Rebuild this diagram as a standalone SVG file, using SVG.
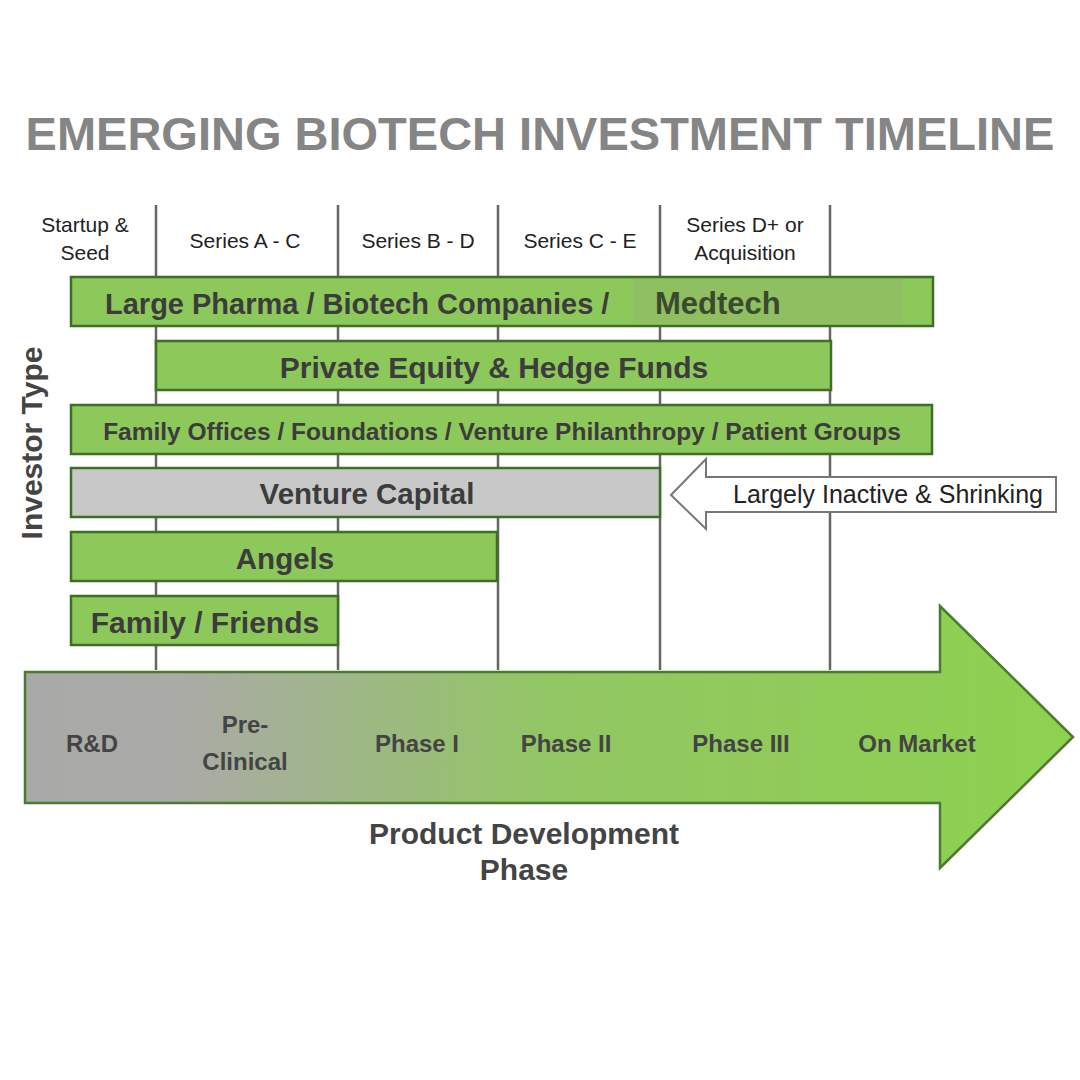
<svg xmlns="http://www.w3.org/2000/svg" width="1080" height="1080" viewBox="0 0 1080 1080">
<style>
text{font-family:"Liberation Sans",Arial,sans-serif;fill:#3c3c3c}
.h{font-size:21px;fill:#222;text-anchor:middle}
.b{font-weight:bold;text-anchor:middle}
.bar{fill:#8dc95a;stroke:#3f6e27;stroke-width:2.5}
.grid{stroke:#666;stroke-width:2.5}
.ph{font-size:24px;font-weight:bold;text-anchor:middle;fill:#444}
</style>
<defs>
<linearGradient id="g" x1="25" y1="0" x2="1073" y2="0" gradientUnits="userSpaceOnUse">
<stop offset="0" stop-color="#a9a9a9"/><stop offset="0.15" stop-color="#aaaaa6"/><stop offset="0.5" stop-color="#92c663"/><stop offset="1" stop-color="#8ed14f"/>
</linearGradient>
</defs>
<rect width="1080" height="1080" fill="#fff"/>
<text x="540" y="150" text-anchor="middle" font-size="47" font-weight="bold" style="fill:#858585">EMERGING BIOTECH INVESTMENT TIMELINE</text>
<g id="grid">
<line class="grid" x1="156" y1="205" x2="156" y2="670"/>
<line class="grid" x1="338" y1="205" x2="338" y2="670"/>
<line class="grid" x1="498" y1="205" x2="498" y2="670"/>
<line class="grid" x1="660" y1="205" x2="660" y2="670"/>
<line class="grid" x1="830" y1="205" x2="830" y2="670"/>
</g>
<g id="headers">
<text class="h" x="85" y="232">Startup &amp;</text><text class="h" x="85" y="260">Seed</text>
<text class="h" x="245" y="248">Series A - C</text>
<text class="h" x="418" y="248">Series B - D</text>
<text class="h" x="580" y="248">Series C - E</text>
<text class="h" x="745" y="232">Series D+ or</text><text class="h" x="745" y="260">Acquisition</text>
</g>
<text transform="translate(42,443) rotate(-90)" text-anchor="middle" font-size="30" font-weight="bold" style="fill:#444">Investor Type</text>
<g id="large-pharma">
<rect class="bar" x="71" y="277" width="862" height="49"/>
<rect x="633" y="279" width="270" height="44" fill="#8fbf60"/>
<text x="105" y="314" font-size="29" font-weight="bold">Large Pharma / Biotech Companies /</text>
<text x="655" y="314" font-size="31" font-weight="bold" style="fill:#3a4a30">Medtech</text>
</g>
<g id="private-equity"><rect class="bar" x="156" y="341" width="675" height="49"/><text class="b" x="494" y="378" font-size="30">Private Equity &amp; Hedge Funds</text></g>
<g id="family-offices"><rect class="bar" x="71" y="405" width="861" height="49"/><text class="b" x="502" y="440" font-size="24.5">Family Offices / Foundations / Venture Philanthropy / Patient Groups</text></g>
<g id="venture-capital"><rect x="71" y="468" width="589" height="49" fill="#c8c8c8" stroke="#3f6e27" stroke-width="2.5"/><text class="b" x="367" y="504" font-size="29.5">Venture Capital</text></g>
<g id="angels"><rect class="bar" x="71" y="532" width="426" height="49"/><text class="b" x="285" y="569" font-size="29.5">Angels</text></g>
<g id="family-friends"><rect class="bar" x="71" y="596" width="267" height="49"/><text class="b" x="205" y="633" font-size="30">Family / Friends</text></g>
<g id="inactive-note">
<polygon points="671,495 706,459 706,477 1056,477 1056,512 706,512 706,529" fill="#fff" stroke="#777" stroke-width="2"/>
<text x="888" y="503" font-size="25" text-anchor="middle" style="fill:#222">Largely Inactive &amp; Shrinking</text>
</g>
<g id="dev-arrow">
<polygon points="25,672 940,672 940,606 1073,737 940,868 940,803 25,803" fill="url(#g)" stroke="#4c7a30" stroke-width="2.5"/>
<text class="ph" x="92" y="752">R&amp;D</text>
<text class="ph" x="245" y="733">Pre-</text><text class="ph" x="245" y="770">Clinical</text>
<text class="ph" x="417" y="752">Phase I</text>
<text class="ph" x="566" y="752">Phase II</text>
<text class="ph" x="741" y="752">Phase III</text>
<text class="ph" x="917" y="752">On Market</text>
</g>
<text x="524" y="844" text-anchor="middle" font-size="30" font-weight="bold" style="fill:#444">Product Development</text>
<text x="524" y="880" text-anchor="middle" font-size="30" font-weight="bold" style="fill:#444">Phase</text>
</svg>
